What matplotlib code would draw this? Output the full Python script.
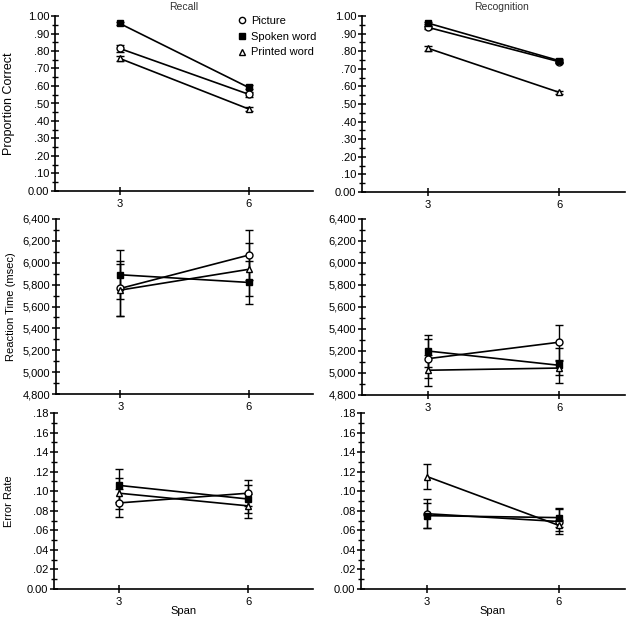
#!/usr/bin/env python3

import numpy as np
import matplotlib as mpl
import matplotlib.pyplot as plt
from matplotlib.lines import Line2D
from matplotlib.ticker import MultipleLocator, FuncFormatter

mpl.rcParams['font.family'] = ['Liberation Sans', 'DejaVu Sans']
mpl.rcParams['font.size'] = 8
mpl.rcParams['lines.linewidth'] = 1.2

# data, series order: picture, spoken word, printed word
span = [3, 6]
series = ['Picture', 'Spoken word', 'Printed word']

acc_recall = [[0.815, 0.553], [0.958, 0.592], [0.758, 0.469]]
acc_recall_err = [[0.018, 0.015], [0.008, 0.012], [0.015, 0.012]]
acc_recog = [[0.936, 0.740], [0.960, 0.746], [0.817, 0.566]]
acc_recog_err = [[0.008, 0.008], [0.008, 0.010], [0.015, 0.010]]

rt_recall = [[5765, 6070], [5890, 5820], [5750, 5940]]
rt_recall_err = [[250, 230], [225, 200], [240, 240]]
rt_recog = [[5130, 5280], [5200, 5070], [5025, 5045]]
rt_recog_err = [[175, 160], [145, 160], [140, 60]]

er_recall = [[0.088, 0.098], [0.106, 0.092], [0.098, 0.085]]
er_recall_err = [[0.014, 0.013], [0.017, 0.014], [0.016, 0.012]]
er_recog = [[0.077, 0.069], [0.075, 0.073], [0.115, 0.065]]
er_recog_err = [[0.015, 0.013], [0.013, 0.010], [0.013, 0.006]]

markers = [('o', 'white'), ('s', 'black'), ('^', 'white')]


def fmt_prop(v, pos):
    if abs(v) < 1e-9:
        return '0.00'
    if abs(v - 1) < 1e-9:
        return '1.00'
    return '{:.2f}'.format(v)[1:]


def fmt_rt(v, pos):
    return '{:,.0f}'.format(v)


def style_axes(ax, ylim, major, minor, formatter):
    for s in ['top', 'right']:
        ax.spines[s].set_visible(False)
    for s in ['left', 'bottom']:
        ax.spines[s].set_linewidth(1.2)
    ax.set_xlim(1.5, 7.5)
    ax.set_ylim(ylim)
    ax.set_xticks(span)
    ax.yaxis.set_major_locator(MultipleLocator(major))
    ax.yaxis.set_minor_locator(MultipleLocator(minor))
    ax.yaxis.set_major_formatter(FuncFormatter(formatter))
    ax.tick_params(axis='both', which='major', direction='inout', length=6,
                   width=1.1, labelsize=8, colors='black')
    ax.tick_params(axis='y', which='minor', direction='inout', length=5, width=1.0)
    ax.tick_params(axis='y', pad=1)
    ax.tick_params(axis='x', pad=3)


def draw(ax, means, errs):
    for (m, fc), mean, err, lab in zip(markers, means, errs, series):
        ax.errorbar(span, mean, yerr=err, color='black', lw=1.2, capsize=3,
                    elinewidth=1.0, capthick=1.0, marker=m, ms=5,
                    mfc=fc, mec='black', mew=1.0, label=lab, clip_on=False)


fig = plt.figure(figsize=(6.35, 6.18), dpi=100)
W, H = 635.0, 618.0


def add_ax(x0, x1, y0, y1):
    return fig.add_axes([x0 / W, 1 - y1 / H, (x1 - x0) / W, (y1 - y0) / H])


ax_a1 = add_ax(55, 313, 16, 191)
ax_a2 = add_ax(362, 625, 16, 192)
ax_b1 = add_ax(56, 313, 219, 394)
ax_b2 = add_ax(362, 625, 219, 395)
ax_c1 = add_ax(54, 313, 413, 589)
ax_c2 = add_ax(361, 625, 413, 589)

draw(ax_a1, acc_recall, acc_recall_err)
draw(ax_a2, acc_recog, acc_recog_err)
draw(ax_b1, rt_recall, rt_recall_err)
draw(ax_b2, rt_recog, rt_recog_err)
draw(ax_c1, er_recall, er_recall_err)
draw(ax_c2, er_recog, er_recog_err)

for ax in (ax_a1, ax_a2):
    style_axes(ax, (0, 1.0), 0.1, 0.05, fmt_prop)
for ax in (ax_b1, ax_b2):
    style_axes(ax, (4800, 6400), 200, 100, fmt_rt)
for ax in (ax_c1, ax_c2):
    style_axes(ax, (0, 0.18), 0.02, 0.01, fmt_prop)

ax_a1.set_title('Recall', fontsize=7.5, pad=4, color='#333333')
ax_a2.set_title('Recognition', fontsize=7.5, pad=4, color='#333333', x=0.53)

ax_a1.set_ylabel('Proportion Correct', fontsize=9)
ax_b1.set_ylabel('Reaction Time (msec)', fontsize=8)
ax_c1.set_ylabel('Error Rate', fontsize=8)
for ax in (ax_a1, ax_b1, ax_c1):
    ax.yaxis.set_label_coords(-0.155, 0.5)

for ax in (ax_c1, ax_c2):
    ax.set_xlabel('Span', fontsize=8)
    ax.xaxis.set_label_coords(0.5, -0.095)

# legend with marker-only handles
handles = [Line2D([], [], ls='none', marker=m, ms=4.5, mfc=fc, mec='black', mew=1.0)
           for m, fc in markers]
ax_a1.legend(handles, series, loc='upper left', bbox_to_anchor=(0.685, 1.03),
             frameon=False, handlelength=0.8, handletextpad=0.45,
             labelspacing=0.5, borderpad=0, fontsize=8)

fig.savefig('out.png', dpi=100)
